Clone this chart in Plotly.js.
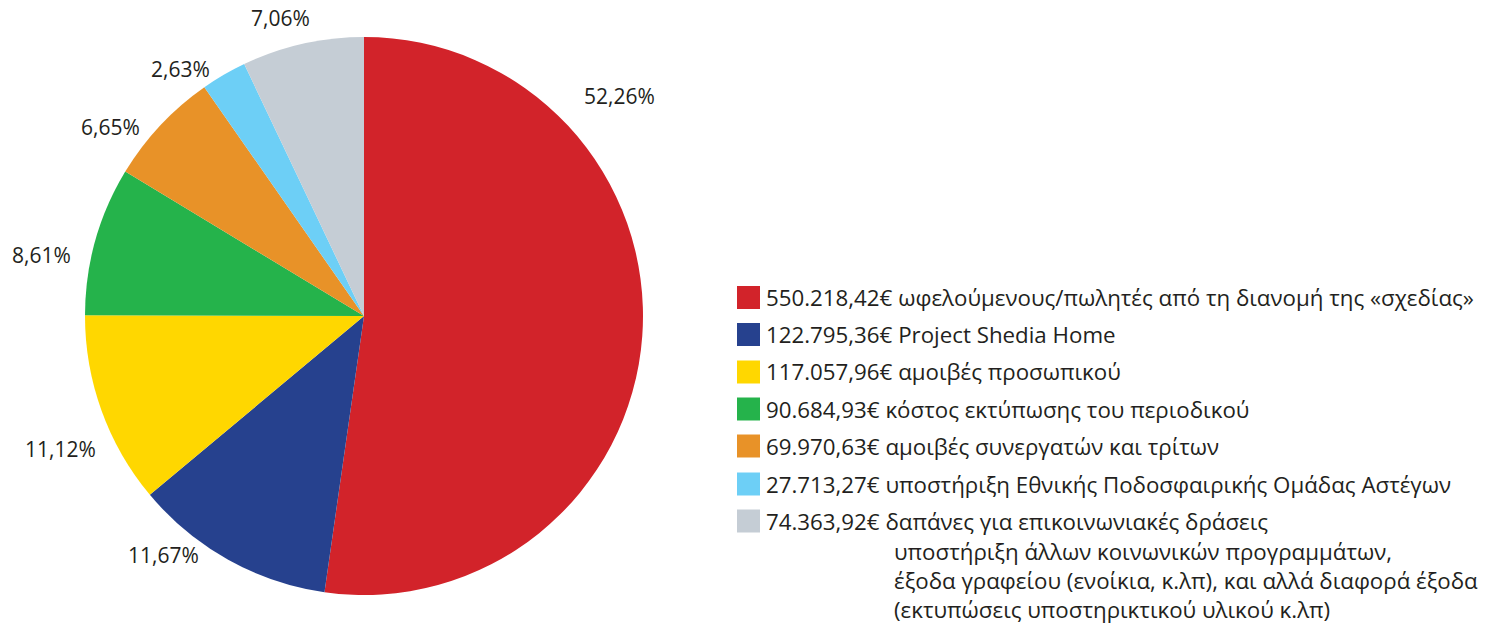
<!DOCTYPE html>
<html>
<head>
<meta charset="utf-8">
<script src="https://cdn.plot.ly/plotly-3.0.1.min.js"></script>
<style>html,body{margin:0;padding:0;background:#fff;}#chart{width:1492px;height:625px;}</style>
</head>
<body>
<div id="chart"></div>
<script>
// ---- data ----
const categories = [
  "ωφελούμενους/πωλητές από τη διανομή της «σχεδίας»",
  "Project Shedia Home",
  "αμοιβές προσωπικού",
  "κόστος εκτύπωσης του περιοδικού",
  "αμοιβές συνεργατών και τρίτων",
  "υποστήριξη Εθνικής Ποδοσφαιρικής Ομάδας Αστέγων",
  "δαπάνες για επικοινωνιακές δράσεις"
];
const values = [550218.42, 122795.36, 117057.96, 90684.93, 69970.63, 27713.27, 74363.92];
const valueLabels = ["550.218,42€", "122.795,36€", "117.057,96€", "90.684,93€", "69.970,63€", "27.713,27€", "74.363,92€"];
const percentLabels = ["52,26%", "11,67%", "11,12%", "8,61%", "6,65%", "2,63%", "7,06%"];
const extraLines = [
  "υποστήριξη άλλων κοινωνικών προγραμμάτων,",
  "έξοδα γραφείου (ενοίκια, κ.λπ), και αλλά διαφορά έξοδα",
  "(εκτυπώσεις υποστηρικτικού υλικού κ.λπ)"
];
const colors = ["#D2232A", "#26418E", "#FFD700", "#25B34B", "#E89228", "#6DCFF6", "#C5CDD5"];

// ---- layout helpers (pixel positions) ----
const W = 1492, H = 625;
const px = x => x / W;
const py = y => 1 - y / H;
const FONT = "Open Sans, Noto Sans, sans-serif";
const TXT = "#231F20";

const pctPos = [[619, 96], [163, 555], [60, 449], [41, 255], [111, 127], [180, 69], [280, 18]];
const legendRowY = [297.5, 334.5, 372, 409, 446, 484, 521];
const extraLineY = [551, 580, 609];

const annotations = [];
const shapes = [];

percentLabels.forEach((t, i) => {
  annotations.push({
    xref: "paper", yref: "paper", x: px(pctPos[i][0]), y: py(pctPos[i][1]),
    xanchor: "center", yanchor: "middle", showarrow: false,
    text: t, font: {family: FONT, size: 21, color: TXT}
  });
});

categories.forEach((c, i) => {
  const yc = legendRowY[i];
  shapes.push({
    type: "rect", xref: "paper", yref: "paper",
    x0: px(737), x1: px(760), y0: py(yc + 11.5), y1: py(yc - 11.5),
    fillcolor: colors[i], line: {width: 0}
  });
  annotations.push({
    xref: "paper", yref: "paper", x: px(764), y: py(yc),
    xanchor: "left", yanchor: "middle", showarrow: false,
    text: valueLabels[i] + " " + c, font: {family: FONT, size: 22.3, color: TXT}
  });
});
extraLines.forEach((t, j) => {
  annotations.push({
    xref: "paper", yref: "paper", x: px(892), y: py(extraLineY[j]),
    xanchor: "left", yanchor: "middle", showarrow: false,
    text: t, font: {family: FONT, size: 22.3, color: TXT}
  });
});

const trace = {
  type: "pie",
  values: values,
  labels: categories,
  marker: {colors: colors, line: {width: 0}},
  sort: false,
  direction: "clockwise",
  rotation: 0,
  textinfo: "none",
  hoverinfo: "label+percent",
  domain: {x: [px(85), px(643)], y: [py(595), py(37)]},
  showlegend: false
};

const layout = {
  width: W, height: H,
  margin: {l: 0, r: 0, t: 0, b: 0},
  paper_bgcolor: "#ffffff",
  plot_bgcolor: "#ffffff",
  showlegend: false,
  separators: ",.",
  annotations: annotations,
  shapes: shapes
};

Plotly.newPlot("chart", [trace], layout, {displayModeBar: false, staticPlot: true});
</script>
</body>
</html>
